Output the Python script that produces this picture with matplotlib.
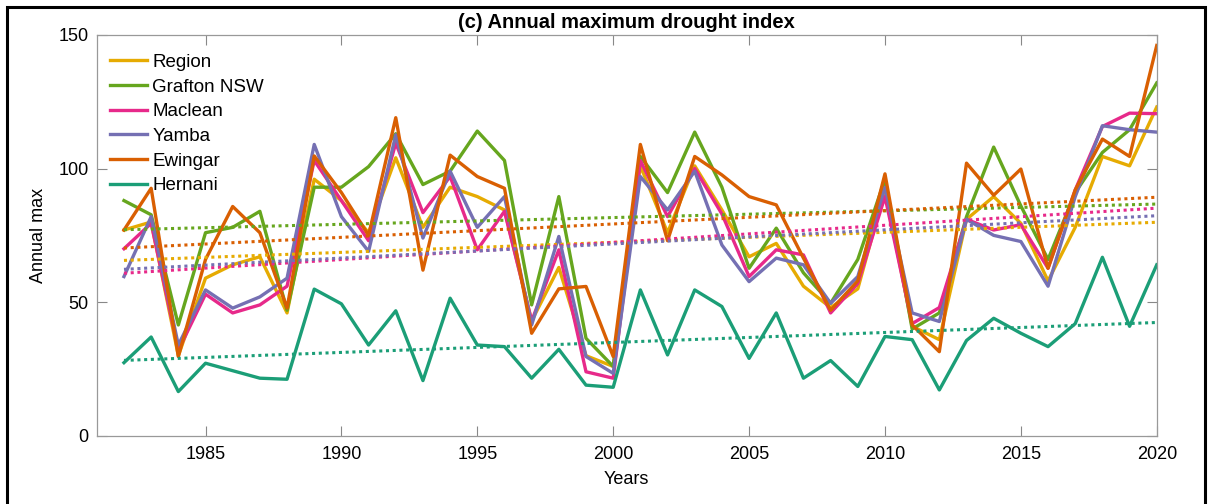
#Annual maximum drought index plot

import numpy as np
import matplotlib
matplotlib.use('Agg')
import matplotlib.pyplot as plt

plt.rcParams['font.family'] = ['Liberation Sans', 'DejaVu Sans']

years = list(range(1982, 2021))

#Annual max values per station
region = [77, 80, 30, 59, 64, 67, 46, 96, 88, 76, 104, 78, 93, 89.5, 84.5, 43, 63, 30, 26,
	101, 76, 101, 84.5, 67, 72, 56, 48, 55, 92, 41, 36, 81, 89.5, 79.5, 58, 78, 104.5, 101, 123]
grafton = [88, 82.7, 41.5, 76, 78, 84, 47, 93, 93, 100.7, 113, 94, 99, 114, 103, 49, 89.5, 36.5, 26,
	104.5, 91, 113.6, 93, 62.7, 77.7, 61, 49.6, 66, 96, 40, 46, 82, 108, 86, 66, 91, 106, 114.5, 132]
maclean = [70, 79.5, 32, 53, 46, 49, 56, 103, 88, 73, 109.5, 83.5, 97, 69.6, 84, 43, 69.6, 24, 21.6,
	103, 82, 100, 83, 59.6, 69.6, 67.7, 46, 57, 89.5, 42, 48, 81, 77, 79, 62.7, 92, 115.7, 120.7, 120.5]
yamba = [59.6, 82, 34, 54.6, 47.8, 52, 59, 109, 82, 69, 112.6, 74, 99, 78, 89.5, 41.5, 74.6, 29.7, 23.4,
	97, 84.5, 99, 71.4, 57.7, 66.5, 64, 49.6, 59.6, 93, 46, 42.8, 81, 75, 72.7, 56, 89.5, 116, 114.5, 113.6]
ewingar = [77, 92.6, 29.7, 66, 85.8, 76, 47.8, 104.7, 91, 75, 119, 62, 105, 97, 92.6, 38.4, 55, 55.9, 29.7,
	109, 73, 104.5, 97.6, 89.5, 86.4, 66.5, 47, 58, 98, 41.5, 31.5, 102, 90, 99.8, 62.7, 92, 111, 104.5, 146]
hernani = [27.4, 37, 16.6, 27.2, 24.4, 21.6, 21.2, 54.9, 49.4, 34, 46.8, 20.7, 51.5, 34, 33.4, 21.6, 32.4, 19, 18.2,
	54.6, 30.3, 54.6, 48.4, 29, 46, 21.6, 28.2, 18.5, 37.2, 36, 17.2, 35.7, 44, 38.4, 33.4, 42, 66.8, 41, 64]

names = ['Region', 'Grafton NSW', 'Maclean', 'Yamba', 'Ewingar', 'Hernani']
colours = ['#E6AB02', '#66A61E', '#E7298A', '#7570B3', '#D95F02', '#1B9E77']

fig = plt.figure(figsize=(12.1, 5.04), dpi=100)
ax = fig.add_axes([0.080, 0.135, 0.876, 0.796])

series = [region, grafton, maclean, yamba, ewingar, hernani]
x = np.array(years)
for vals, nm, col in zip(series, names, colours):
	ax.plot(x, vals, color=col, lw=2.4, label=nm)

#Linear trend lines (dotted)
for vals, col in zip(series, colours):
	p = np.polyfit(x, vals, 1)
	ax.plot(x, np.polyval(p, x), color=col, lw=2.2, ls=(0, (1, 1.2)))

ax.set_xlim(1981, 2020)
ax.set_ylim(0, 150)
ax.set_xticks(range(1985, 2021, 5))
ax.set_yticks([0, 50, 100, 150])
ax.tick_params(direction='in', top=True, right=True, labelsize=13, length=7, color='#888888', width=0.8)
ax.tick_params(axis='x', pad=7)
ax.tick_params(axis='y', pad=6)
for s in ax.spines.values():
	s.set_color('#999999')
	s.set_linewidth(0.9)
ax.set_xlabel('Years', fontsize=13, labelpad=6)
ax.set_ylabel('Annual max', fontsize=13, labelpad=8)
ax.set_title('(c) Annual maximum drought index', fontsize=14.5, fontweight='bold', pad=5)

ax.legend(loc='upper left', frameon=False, fontsize=13.5, handlelength=2.0, handletextpad=0.25,
	labelspacing=0.4, borderaxespad=0.3, bbox_to_anchor=(0.0, 0.985))

#Black frame round the whole figure
fig.patches.append(plt.Rectangle((7 / 1210, -0.02), 1198 / 1210, 1.02 - 7 / 504, transform=fig.transFigure,
	fill=False, edgecolor='black', lw=2.2))

fig.savefig('out.png', dpi=100)
